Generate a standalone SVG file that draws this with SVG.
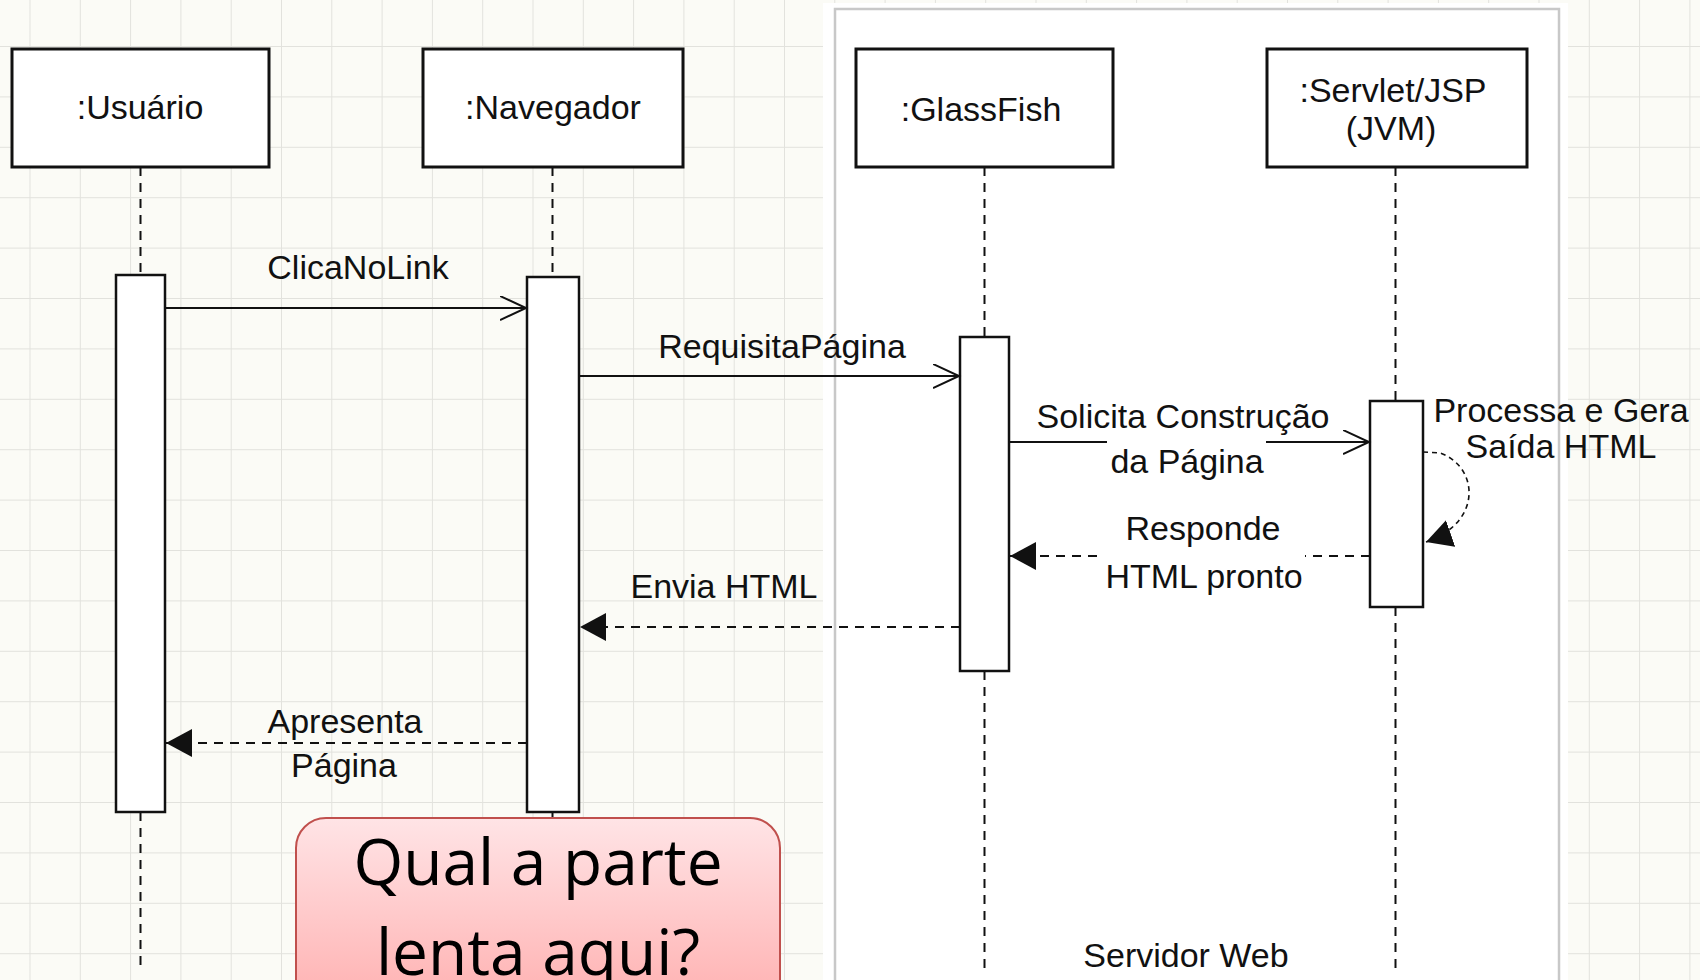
<svg xmlns="http://www.w3.org/2000/svg" width="1700" height="980" viewBox="0 0 1700 980">
<defs>
<style>
.bg{fill:#fbfbf6}
.box{fill:#fff;stroke:#111;stroke-width:3}
.act{fill:#fff;stroke:#111;stroke-width:2.5}
.life{stroke:#111;stroke-width:2;stroke-dasharray:9 7;fill:none}
.msg{stroke:#111;stroke-width:2;fill:none}
.ret{stroke:#111;stroke-width:2;fill:none;stroke-dasharray:9 7}
.self{stroke:#111;stroke-width:1.6;fill:none;stroke-dasharray:5 4}
.t{font-family:"Liberation Sans",Arial,sans-serif;font-size:34px;fill:#111;text-anchor:middle}
.q{font-family:"Open Sans","Liberation Sans",sans-serif;font-size:64px;fill:#000;text-anchor:middle}
</style>
<pattern id="grid" patternUnits="userSpaceOnUse" x="29.5" y="46" width="50.3" height="50.4">
<path d="M0,0 V50.4 M0,0 H50.3" stroke="#e2e2dd" stroke-width="2" fill="none"/>
</pattern>
<linearGradient id="pink" x1="0" y1="0" x2="0" y2="1">
<stop offset="0" stop-color="#ffe4e6"/>
<stop offset="1" stop-color="#ffadad"/>
</linearGradient>
<marker id="open" markerUnits="userSpaceOnUse" markerWidth="30" markerHeight="30" refX="26" refY="12" orient="auto">
<path d="M0,0 L26,12 L0,24" fill="none" stroke="#111" stroke-width="2" stroke-dasharray="none"/>
</marker>
<marker id="filled" markerUnits="userSpaceOnUse" markerWidth="30" markerHeight="32" refX="26" refY="14" orient="auto">
<path d="M0,0 L26,14 L0,28 z" fill="#111" stroke="none"/>
</marker>
</defs>
<rect class="bg" x="0" y="0" width="1700" height="980"/>
<rect x="0" y="0" width="1700" height="980" fill="url(#grid)"/>
<g id="servidor-web">
<rect x="823" y="3" width="745" height="985" fill="#fff"/>
<rect x="835" y="9" width="724" height="990" fill="#fff" stroke="#c8c8c8" stroke-width="2.5"/>
<text class="t" x="1186" y="967">Servidor Web</text>
</g>
<g id="usuario">
<rect class="box" x="12" y="49" width="257" height="118"/>
<text class="t" x="140" y="119">:Usuário</text>
<line class="life" x1="140.5" y1="167" x2="140.5" y2="275"/>
<line class="life" x1="140.5" y1="812" x2="140.5" y2="970"/>
<rect class="act" x="116" y="275" width="49" height="537"/>
</g>
<g id="navegador">
<rect class="box" x="423" y="49" width="260" height="118"/>
<text class="t" x="553" y="119">:Navegador</text>
<line class="life" x1="552.5" y1="167" x2="552.5" y2="277"/>
<line class="life" x1="552.5" y1="812" x2="552.5" y2="975"/>
<rect class="act" x="527" y="277" width="52" height="535"/>
</g>
<g id="glassfish">
<rect class="box" x="856" y="49" width="257" height="118"/>
<text class="t" x="981" y="121">:GlassFish</text>
<line class="life" x1="984.5" y1="167" x2="984.5" y2="337"/>
<line class="life" x1="984.5" y1="671" x2="984.5" y2="975"/>
<rect class="act" x="960" y="337" width="49" height="334"/>
</g>
<g id="servlet">
<rect class="box" x="1267" y="49" width="260" height="118"/>
<text class="t" x="1393" y="102">:Servlet/JSP</text>
<text class="t" x="1391" y="140">(JVM)</text>
<line class="life" x1="1395.5" y1="167" x2="1395.5" y2="401"/>
<line class="life" x1="1395.5" y1="607" x2="1395.5" y2="975"/>
<rect class="act" x="1370" y="401" width="53" height="206"/>
</g>
<g id="connectors">
<line class="msg" x1="165" y1="308" x2="526" y2="308" marker-end="url(#open)"/>
<text class="t" x="358" y="279">ClicaNoLink</text>
<line class="msg" x1="579" y1="376" x2="959" y2="376" marker-end="url(#open)"/>
<text class="t" x="782" y="358">RequisitaPágina</text>
<line class="msg" x1="1009" y1="442" x2="1107" y2="442"/>
<line class="msg" x1="1266" y1="442" x2="1369" y2="442" marker-end="url(#open)"/>
<text class="t" x="1183" y="428">Solicita Construção</text>
<text class="t" x="1187" y="473">da Página</text>
<path class="self" d="M1423,452 L1440,453 C1478,466 1484,522 1426,542" marker-end="url(#filled)"/>
<text class="t" x="1561" y="422">Processa e Gera</text>
<text class="t" x="1561" y="458">Saída HTML</text>
<line class="ret" x1="1370" y1="556" x2="1305" y2="556"/>
<line class="ret" x1="1097" y1="556" x2="1010" y2="556" marker-end="url(#filled)"/>
<text class="t" x="1203" y="540">Responde</text>
<text class="t" x="1204" y="588">HTML pronto</text>
<line class="ret" x1="960" y1="627" x2="580" y2="627" marker-end="url(#filled)"/>
<text class="t" x="724" y="598">Envia HTML</text>
<line class="ret" x1="527" y1="743" x2="166" y2="743" marker-end="url(#filled)"/>
<text class="t" x="345" y="733">Apresenta</text>
<text class="t" x="344" y="777">Página</text>
</g>
<g id="callout">
<rect x="296" y="818" width="484" height="200" rx="30" ry="30" fill="url(#pink)" stroke="#c0504d" stroke-width="2"/>
<text class="q" x="538" y="885">Qual a parte</text>
<text class="q" x="538" y="975">lenta aqui?</text>
</g>
</svg>
